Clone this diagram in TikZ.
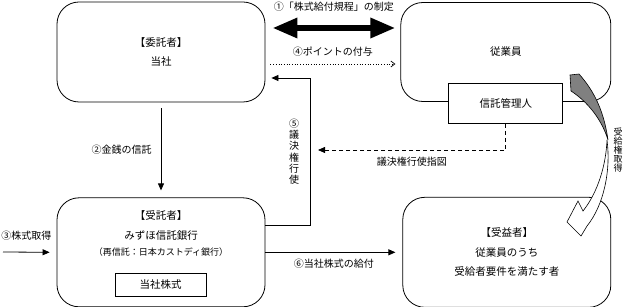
\documentclass[tikz,border=0pt]{standalone}
\usepackage{fontspec}
\setmainfont{Noto Sans CJK JP}
\usepackage{tikz}
\usetikzlibrary{positioning, arrows.meta, calc}
\newcommand{\boxfont}{\fontsize{10.5}{19.5}\selectfont}
\newcommand{\lblfont}{\fontsize{10}{11.2}\selectfont}
\tikzset{
  actor/.style={rectangle, rounded corners=22pt, draw=black, line width=0.8pt, minimum width=208pt, minimum height=100pt, align=center, font=\boxfont},
  panel/.style={rectangle, draw=black, line width=0.8pt, fill=white, align=center, font=\boxfont},
  arrow/.style={line width=0.8pt, -{Triangle[length=7pt,width=6pt]}},
  lbl/.style={font=\lblfont, inner sep=1pt},
  vlbl/.style={font=\lblfont, align=center, inner sep=0pt}
}

\begin{document}
\begin{tikzpicture}[x=1pt, y=-1pt]
  \useasboundingbox (0,0) rectangle (624,307);

  % boxes
  \node (itaku) [actor] at (161,52) {【委託者】\\当社};
  \node (jugyo) [actor, minimum width=210pt, minimum height=99pt, right=135pt of itaku] {従業員};
  \node (kanri) [panel, minimum width=114pt, minimum height=40pt] at ([yshift=-1.5pt]jugyo.south) {信託管理人};
  \node (jutaku) [actor, minimum height=109pt, below=95pt of itaku] {};
  \node (jutakuname) [font=\boxfont, inner sep=0pt] at (161,216) {【受託者】};
  \node (mizuho) [font=\boxfont, inner sep=0pt] at (161,236) {みずほ信託銀行};
  \node (saishin) [font=\fontsize{9}{10}\selectfont, inner sep=0pt] at (161,252) {（再信託：日本カストディ銀行）};
  \node (kabu) [panel, minimum width=91pt, minimum height=23pt] at (160.5,284.5) {当社株式};
  \node (jueki) [actor, minimum height=110pt, right=137pt of jutaku] {【受益者】\\従業員のうち\\受給者要件を満たす者};

  \coordinate (kabusrc) at (3,252);
  \coordinate (shijiend) at (318,150);

  % connectors
  \draw [line width=6pt, {Triangle[length=25pt,width=19pt]}-{Triangle[length=25pt,width=19pt]}]
    ([xshift=7pt,yshift=24pt]itaku.east) -- node[lbl, above=13pt] {①「株式給付規程」の制定} ([xshift=-5pt,yshift=24pt]jugyo.west);
  \draw [line width=0.7pt, dotted, -{Straight Barb[length=4pt,width=6pt]}]
    ([xshift=5pt,yshift=-12pt]itaku.east) -- node[lbl, above=6pt] {④ポイントの付与} ([xshift=-5pt,yshift=-12pt]jugyo.west);
  \draw [arrow] ([yshift=-6pt]itaku.south) -- node[lbl, left=8pt] {②金銭の信託} ([yshift=7pt]jutaku.north);
  \draw [arrow] (kabusrc) -- node[lbl, above=10pt] {③株式取得} ([xshift=-7pt]jutaku.west);
  \draw [arrow] ([yshift=27pt]jutaku.east) -- ++(45pt,0)
    |- node[vlbl, pos=0.25, left=11pt] {⑤\\議\\決\\権\\行\\使} ([xshift=6pt,yshift=-26pt]itaku.east);
  \draw [arrow, dash pattern=on 4pt off 3pt] (kanri.south) |- node[lbl, pos=0.75, below=6pt] {議決権行使指図} (shijiend);
  \draw [arrow, shorten >=7pt] (jutaku.east) -- node[lbl, below=5pt] {⑥当社株式の給付} (jueki.west);

  % curved arrow
  \draw [line width=0.6pt, fill=black!50] (570,75) -- (579,74) .. controls (595,92) and (604,112) .. (608,140)
    .. controls (602,120) and (588,102) .. (571,91) -- cycle;
  \draw [line width=0.6pt, fill=white] (607,140) .. controls (606,165) and (598,192) .. (583,211)
    -- (578,201) -- (567,222) -- (581,236) -- (587,226) .. controls (604,205) and (611,170) .. (607,140) -- cycle;
  \node (jukyu) [vlbl, font=\fontsize{9}{9}\selectfont] at (618,150) {受\\給\\権\\取\\得};
\end{tikzpicture}
\end{document}
